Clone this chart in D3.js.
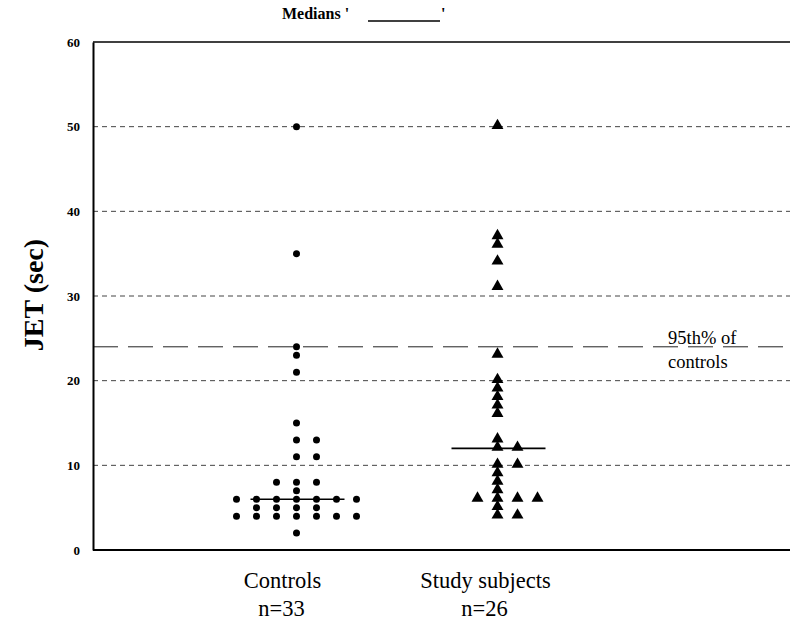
<!DOCTYPE html>
<html><head><meta charset="utf-8">
<script src="https://cdn.jsdelivr.net/npm/d3@7"></script>
<style>
html,body{margin:0;padding:0;background:#fff;}svg{display:block;}
svg text{font-family:"Liberation Serif","Times New Roman","DejaVu Serif",serif;}
</style>
</head><body>
<svg id="chart" width="790" height="625"></svg>
<script>
// ---- data ----
const categories = ["Controls", "Study subjects"];
const counts = [33, 26];
const controlsValues = [50, 35, 24, 23, 21, 15, 13, 13, 11, 11, 8, 8, 8, 7,
  6, 6, 6, 6, 6, 6, 6, 5, 5, 5, 5, 4, 4, 4, 4, 4, 4, 4, 2];
const controlsColumn = [0, 0, 0, 0, 0, 0, 0, 1, 0, 1, -1, 0, 1, 0,
  -3, -2, -1, 0, 1, 2, 3, -2, -1, 0, 1, -3, -2, -1, 0, 1, 2, 3, 0];
const studyValues = [50, 37, 36, 34, 31, 23, 20, 19, 18, 17, 16, 13, 12, 12,
  10, 10, 9, 8, 7, 6, 6, 6, 6, 5, 4, 4];
const studyColumn = [0, 0, 0, 0, 0, 0, 0, 0, 0, 0, 0, 0, 0, 1,
  0, 1, 0, 0, 0, -1, 0, 1, 2, 0, 0, 1];
const medians = [6, 12];
const yTicks = [0, 10, 20, 30, 40, 50, 60];
const gridValues = [10, 20, 30, 40, 50];
const percentile95 = 24;

// ---- layout ----
const svg = d3.select("#chart");
const plotL = 93, plotR = 790, plotT = 42, plotB = 550;
const y = d3.scaleLinear().domain([0, 60]).range([plotB, plotT]);
const x = d3.scaleBand().domain(categories).range([196, 598]);
const cx = c => x(c) + x.bandwidth() / 2;
const slot = 20;

// gridlines
svg.append("g").selectAll("line").data(gridValues).join("line")
  .attr("x1", plotL).attr("x2", plotR)
  .attr("y1", d => y(d)).attr("y2", d => y(d))
  .attr("stroke", "#444").attr("stroke-width", 1)
  .attr("stroke-dasharray", "5,4");

// 95th percentile line
svg.append("line")
  .attr("x1", plotL).attr("x2", plotR)
  .attr("y1", y(percentile95)).attr("y2", y(percentile95))
  .attr("stroke", "#222").attr("stroke-width", 1)
  .attr("stroke-dasharray", "25,10");

// frame
svg.append("line").attr("x1", plotL).attr("x2", plotR).attr("y1", plotT).attr("y2", plotT)
  .attr("stroke", "#000").attr("stroke-width", 1.5);
svg.append("line").attr("x1", plotL).attr("x2", plotR).attr("y1", plotB).attr("y2", plotB)
  .attr("stroke", "#000").attr("stroke-width", 2);

// y axis
const yAxis = svg.append("g").attr("transform", `translate(${plotL},0)`)
  .call(d3.axisLeft(y).tickValues(yTicks).tickSize(0).tickPadding(13).tickFormat(d3.format("d")));
yAxis.attr("font-family", null);
yAxis.select(".domain").attr("stroke", "#000").attr("stroke-width", 2);
yAxis.selectAll("text").attr("font-weight", "bold")
  .attr("font-size", 13).attr("fill", "#000");

// y title
svg.append("text")
  .attr("transform", `translate(43,295) rotate(-90)`)
  .attr("text-anchor", "middle")
  .attr("font-weight", "bold").attr("font-size", 28)
  .text("JET (sec)");

// controls dots
svg.append("g").selectAll("circle").data(controlsValues).join("circle")
  .attr("cx", (d, i) => cx(categories[0]) + controlsColumn[i] * slot)
  .attr("cy", d => y(d))
  .attr("r", 3.5).attr("fill", "#000");

// study triangles
const tri = d3.symbol().type(d3.symbolTriangle).size(62);
svg.append("g").selectAll("path").data(studyValues).join("path")
  .attr("d", tri)
  .attr("transform", (d, i) => `translate(${cx(categories[1]) + studyColumn[i] * slot},${y(d) - 1})`)
  .attr("fill", "#000");

// median lines
svg.append("g").selectAll("line").data(medians).join("line")
  .attr("x1", (d, i) => cx(categories[i]) - 46)
  .attr("x2", (d, i) => cx(categories[i]) + 48)
  .attr("y1", d => y(d)).attr("y2", d => y(d))
  .attr("stroke", "#000").attr("stroke-width", 1.6);

// category labels
const labelShift = [-14, -12];
const nShift = [-15, -13];
categories.forEach((c, i) => {
  svg.append("text").attr("x", cx(c) + labelShift[i]).attr("y", 588)
    .attr("text-anchor", "middle").attr("font-size", 22.5)
    .text(c);
  svg.append("text").attr("x", cx(c) + nShift[i]).attr("y", 616)
    .attr("text-anchor", "middle").attr("font-size", 22.5)
    .text("n=" + counts[i]);
});

// title legend
svg.append("text").attr("x", 282).attr("y", 19)
  .attr("font-weight", "bold").attr("font-size", 16)
  .text("Medians '");
svg.append("line").attr("x1", 368).attr("x2", 440).attr("y1", 21).attr("y2", 21)
  .attr("stroke", "#000").attr("stroke-width", 1.5);
svg.append("text").attr("x", 441).attr("y", 19)
  .attr("font-weight", "bold").attr("font-size", 16)
  .text("'");

// 95th label
svg.append("text").attr("x", 668).attr("y", y(percentile95) - 3)
  .attr("font-size", 18.5).text("95th% of");
svg.append("text").attr("x", 668).attr("y", y(percentile95) + 21)
  .attr("font-size", 18.5).text("controls");
</script>
</body></html>
